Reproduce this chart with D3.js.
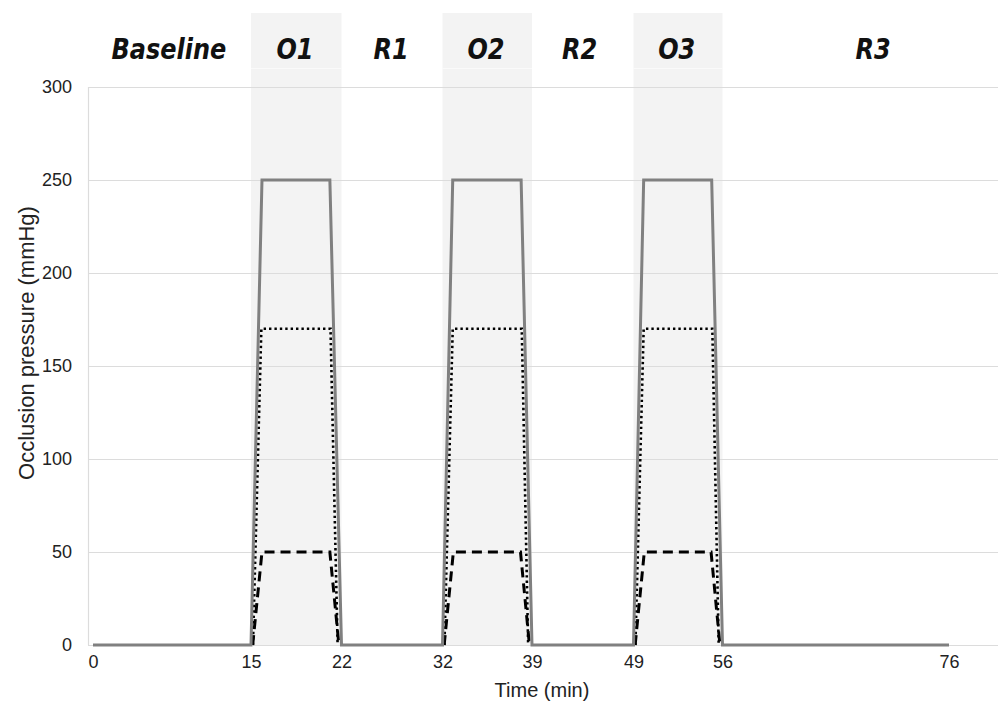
<!DOCTYPE html>
<html><head><meta charset="utf-8">
<script src="https://cdn.jsdelivr.net/npm/d3@7/dist/d3.min.js"></script>
<style>html,body{margin:0;padding:0;background:#fff;}svg{display:block;}</style>
</head><body><svg id="chart" width="998" height="702"></svg>
<script>
// ---- data ----
const xTicks = [0, 15, 22, 32, 39, 49, 56, 76];
const yTicks = [0, 50, 100, 150, 200, 250, 300];
const phaseNames = ["Baseline", "O1", "R1", "O2", "R2", "O3", "R3"];
const phaseLabelTime = [7.2, 18.4, 26.9, 35.4, 43.7, 52.4, 69.3];
const occlusionStart = [15, 32, 49];
const occlusionEnd = [22, 39, 56];
// solid grey line (250 mmHg)
const solidTime = [0, 15, 15.85, 21.1, 22, 32, 32.8, 38.15, 39, 49, 49.8, 55.15, 56, 76];
const solidValue = [0, 0, 250, 250, 0, 0, 250, 250, 0, 0, 250, 250, 0, 0];
// dotted black line (170 mmHg), null = gap
const dottedTime = [15.15, 15.8, 21.15, 21.7, null, 32.15, 32.8, 38.2, 38.7, null, 49.15, 49.8, 55.2, 55.7];
const dottedValue = [0, 170, 170, 0, null, 0, 170, 170, 0, null, 0, 170, 170, 0];
// dashed black line (50 mmHg)
const dashedTime = [15.13, 15.85, 21.1, 21.8, null, 32.13, 32.85, 38.1, 38.8, null, 49.13, 49.85, 55.1, 55.8];
const dashedValue = [0, 50, 50, 0, null, 0, 50, 50, 0, null, 0, 50, 50, 0];

// ---- layout ----
const svg = d3.select("#chart");
const plotLeft = 88, plotRight = 998, plotTop = 87, plotBottom = 645, bandTop = 13;
// piecewise time axis (as in the original figure)
const x = d3.scaleLinear()
  .domain(xTicks)
  .range([93, 251, 341.5, 442.5, 532, 633.5, 722.5, 949]);
const y = d3.scaleLinear().domain([0, 300]).range([plotBottom, plotTop]);

// shaded occlusion bands
occlusionStart.forEach((s, i) => {
  svg.append("rect")
    .attr("x", x(s)).attr("y", bandTop)
    .attr("width", x(occlusionEnd[i]) - x(s))
    .attr("height", plotBottom - bandTop)
    .attr("fill", "#f3f3f3");
  svg.append("line")
    .attr("x1", x(s)).attr("x2", x(occlusionEnd[i]))
    .attr("y1", 68.5).attr("y2", 68.5)
    .attr("stroke", "#fafafa").attr("stroke-width", 1);
});

// gridlines
svg.append("g").selectAll("line").data(yTicks).join("line")
  .attr("x1", plotLeft).attr("x2", plotRight)
  .attr("y1", d => Math.round(y(d)) + 0.5).attr("y2", d => Math.round(y(d)) + 0.5)
  .attr("stroke", "#dcdcdc").attr("stroke-width", 1.2);
svg.append("line")
  .attr("x1", plotLeft + 0.5).attr("x2", plotLeft + 0.5)
  .attr("y1", plotTop).attr("y2", plotBottom)
  .attr("stroke", "#dcdcdc").attr("stroke-width", 1.2);

// y axis labels
const yAxis = d3.axisLeft(y).tickValues(yTicks).tickSize(0).tickPadding(16);
const gy = svg.append("g").attr("transform", `translate(${plotLeft},0)`).call(yAxis);
gy.select(".domain").remove();
gy.selectAll("text").attr("font-family", "Liberation Sans, Arial, sans-serif")
  .attr("font-size", 18).attr("fill", "#222");

// x axis labels
const xAxis = d3.axisBottom(x).tickValues(xTicks).tickSize(0).tickPadding(10).tickFormat(d3.format("d"));
const gx = svg.append("g").attr("transform", `translate(0,${plotBottom})`).call(xAxis);
gx.select(".domain").remove();
gx.selectAll("text").attr("font-family", "Liberation Sans, Arial, sans-serif")
  .attr("font-size", 18).attr("fill", "#222");

// axis titles
svg.append("text").attr("x", 542).attr("y", 697)
  .attr("text-anchor", "middle")
  .attr("font-family", "Liberation Sans, Arial, sans-serif").attr("font-size", 20).attr("fill", "#222")
  .text("Time (min)");
svg.append("text")
  .attr("transform", "translate(34,343) rotate(-90)")
  .attr("text-anchor", "middle")
  .attr("font-family", "Liberation Sans, Arial, sans-serif").attr("font-size", 22).attr("fill", "#222")
  .text("Occlusion pressure (mmHg)");

// phase labels
phaseNames.forEach((n, i) => {
  svg.append("text")
    .attr("transform", `translate(${x(phaseLabelTime[i])},59) scale(1,1.2)`)
    .attr("text-anchor", "middle")
    .attr("font-family", "DejaVu Sans, Verdana, sans-serif")
    .attr("font-weight", "bold").attr("font-style", "italic")
    .attr("font-size", 24).attr("fill", "#111")
    .text(n);
});

// lines
const mk = (ts, vs) => ts.map((t, i) => ({t, v: vs[i]}));
const line = d3.line().defined(d => d.t !== null).x(d => x(d.t)).y(d => y(d.v));
svg.append("path").datum(mk(dashedTime, dashedValue)).attr("d", line)
  .attr("fill", "none").attr("stroke", "#000").attr("stroke-width", 3)
  .attr("stroke-dasharray", "10 6");
svg.append("path").datum(mk(dottedTime, dottedValue)).attr("d", line)
  .attr("fill", "none").attr("stroke", "#000").attr("stroke-width", 2.6)
  .attr("stroke-dasharray", "2.4 3");
svg.append("path").datum(mk(solidTime, solidValue)).attr("d", line)
  .attr("fill", "none").attr("stroke", "#808080").attr("stroke-width", 3)
  .attr("stroke-linejoin", "miter");
</script></body></html>
